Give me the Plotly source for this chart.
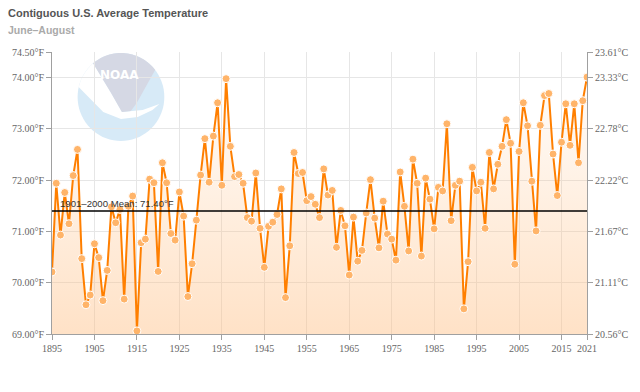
import math
import plotly.graph_objects as go

YEARS = list(range(1895, 2022))
TEMPS_F = [
    70.21, 71.94, 70.93, 71.76, 71.15, 72.09, 72.60, 70.47, 69.57, 69.76,  # 1895-1904
    70.76, 70.49, 69.65, 70.24, 71.48, 71.17, 71.43, 69.68, 71.49, 71.69,  # 1905-1914
    69.06, 70.78, 70.85, 72.02, 71.95, 70.22, 72.34, 71.95, 70.96, 70.83,  # 1915-1924
    71.77, 71.30, 69.73, 70.37, 71.22, 72.10, 72.81, 71.96, 72.86, 73.51,  # 1925-1934
    71.90, 73.98, 72.66, 72.07, 72.11, 71.94, 71.27, 71.20, 72.14, 71.06,  # 1935-1944
    70.30, 71.10, 71.18, 71.33, 71.83, 69.71, 70.72, 72.54, 72.13, 72.15,  # 1945-1954
    71.60, 71.68, 71.53, 71.27, 72.22, 71.71, 71.80, 70.69, 71.41, 71.11,  # 1955-1964
    70.15, 71.28, 70.42, 70.63, 71.36, 72.01, 71.26, 70.68, 71.59, 70.95,  # 1965-1974
    70.85, 70.44, 72.16, 71.49, 70.62, 72.41, 71.94, 70.52, 72.04, 71.63,  # 1975-1984
    71.05, 71.86, 71.79, 73.10, 71.21, 71.90, 71.98, 69.49, 70.41, 72.25,  # 1985-1994
    71.79, 71.96, 71.06, 72.54, 71.83, 72.31, 72.66, 73.18, 72.72, 70.36,  # 1995-2004
    72.56, 73.51, 73.06, 71.98, 71.01, 73.07, 73.65, 73.69, 72.51, 71.70,  # 2005-2014
    72.74, 73.49, 72.68, 73.49, 72.34, 73.55, 74.01,                      # 2015-2021
]
MEAN_F = 71.40
MEAN_LABEL = "1901–2000 Mean: 71.40°F"

Y_TICKS = [69.0, 70.0, 71.0, 72.0, 73.0, 74.0, 74.5]
Y_TICK_F = ["69.00°F", "70.00°F", "71.00°F", "72.00°F", "73.00°F", "74.00°F", "74.50°F"]
Y_TICK_C = ["20.56°C", "21.11°C", "21.67°C", "22.22°C", "22.78°C", "23.33°C", "23.61°C"]
X_TICKS = [1895, 1905, 1915, 1925, 1935, 1945, 1955, 1965, 1975, 1985, 1995, 2005, 2015, 2021]

TITLE = "Contiguous U.S. Average Temperature"
SUBTITLE = "June–August"

# layout geometry (pixels)
W, H = 640, 392
L, R, T, B = 48, 49, 52, 58
PW, PH = W - L - R, H - T - B


def px(x):
    return (x - L) / PW


def py(y):
    return (H - B - y) / PH


def path(points, close=True):
    s = "M " + " L ".join(f"{px(x):.5f},{py(y):.5f}" for x, y in points)
    return s + (" Z" if close else "")


def arc(cx, cy, r, a0, a1, n=30):
    pts = []
    for i in range(n + 1):
        a = math.radians(a0 + (a1 - a0) * i / n)
        pts.append((cx + r * math.cos(a), cy - r * math.sin(a)))
    return pts


fig = go.Figure()

fig.add_trace(go.Scatter(
    x=YEARS, y=TEMPS_F, mode="lines+markers",
    line=dict(color="#FF7F00", width=2),
    marker=dict(size=8, color="#FFB469", line=dict(color="white", width=1)),
    fill="tozeroy",
    fillgradient=dict(type="vertical", start=69.0, stop=74.5,
                      colorscale=[[0, "rgba(255,190,130,0.45)"], [1, "rgba(255,190,130,0)"]]),
    hoverinfo="x+y", showlegend=False,
))
fig.add_trace(go.Scatter(x=[YEARS[0]], y=[TEMPS_F[0]], yaxis="y2", mode="markers",
                         marker=dict(opacity=0), hoverinfo="skip", showlegend=False))

# NOAA logo (decorative watermark)
cx, cy, r = 118, 97, 44
shapes = []
shapes.append(dict(type="path", xref="paper", yref="paper", layer="below",
                   path=path(arc(cx, cy, r, 0, 360, 72)),
                   fillcolor="#D7EAF7", line=dict(width=0)))
wing = arc(cx, cy, r, 166, 130, 12) + [(108, 93), (119, 112), (140, 110), (157, 104),
                                        (150, 110), (135, 117), (118, 119), (100, 112), (75, 87)]
shapes.append(dict(type="path", xref="paper", yref="paper", layer="below",
                   path=path(wing), fillcolor="white", line=dict(width=0)))
gray = arc(cx, cy, r, 130, 38, 30) + [(134, 103), (128, 111), (119, 112), (108, 93)]
shapes.append(dict(type="path", xref="paper", yref="paper", layer="below",
                   path=path(gray), fillcolor="#D5D8E4", line=dict(width=0)))

# mean line
shapes.append(dict(type="line", xref="paper", yref="y", x0=0, x1=1, y0=MEAN_F, y1=MEAN_F,
                   line=dict(color="black", width=1.5), layer="above"))

annotations = [
    dict(text="NOAA", xref="paper", yref="paper", x=px(117), y=py(75), showarrow=False,
         xanchor="center", yanchor="middle",
         font=dict(family="DejaVu Sans", size=12, color="white", weight="bold")),
    dict(text=MEAN_LABEL, xref="paper", yref="y", x=px(54), y=MEAN_F, xanchor="left",
         yanchor="bottom", yshift=0, showarrow=False,
         font=dict(family="Liberation Sans", size=9.6, color="#333333")),
    dict(text=TITLE, xref="paper", yref="paper", x=px(1), y=py(13), xanchor="left",
         yanchor="middle", showarrow=False,
         font=dict(family="Liberation Sans", size=11, color="#555555", weight="bold")),
    dict(text=SUBTITLE, xref="paper", yref="paper", x=px(1), y=py(30), xanchor="left",
         yanchor="middle", showarrow=False,
         font=dict(family="Liberation Sans", size=10.5, color="#AAAAAA", weight="bold")),
]

tickfont = dict(family="Liberation Serif", size=10, color="#666666")
fig.update_layout(
    width=W, height=H, margin=dict(l=L, r=R, t=T, b=B, pad=0),
    paper_bgcolor="white", plot_bgcolor="white",
    shapes=shapes, annotations=annotations,
    xaxis=dict(range=[YEARS[0], YEARS[-1]], tickvals=X_TICKS, ticktext=[str(v) for v in X_TICKS],
               showgrid=True, gridcolor="#E6E6E6", gridwidth=1, zeroline=False,
               showline=True, linecolor="#A0A0A0", linewidth=1,
               ticks="outside", ticklen=5, tickcolor="#A0A0A0", tickfont=tickfont),
    yaxis=dict(range=[69.0, 74.5], tickvals=Y_TICKS, ticktext=Y_TICK_F,
               showgrid=True, gridcolor="#E6E6E6", gridwidth=1, zeroline=False,
               showline=True, linecolor="#A0A0A0", linewidth=1,
               ticks="outside", ticklen=5, tickcolor="#A0A0A0", tickfont=tickfont),
    yaxis2=dict(range=[69.0, 74.5], tickvals=Y_TICKS, ticktext=Y_TICK_C, overlaying="y",
                side="right", showgrid=False, zeroline=False,
                showline=True, linecolor="#A0A0A0", linewidth=1,
                ticks="outside", ticklen=5, tickcolor="#A0A0A0", tickfont=tickfont),
)

fig.write_html("out.html", config={"displayModeBar": False},
               post_script="document.body.style.margin='0';document.body.style.overflow='hidden';")
